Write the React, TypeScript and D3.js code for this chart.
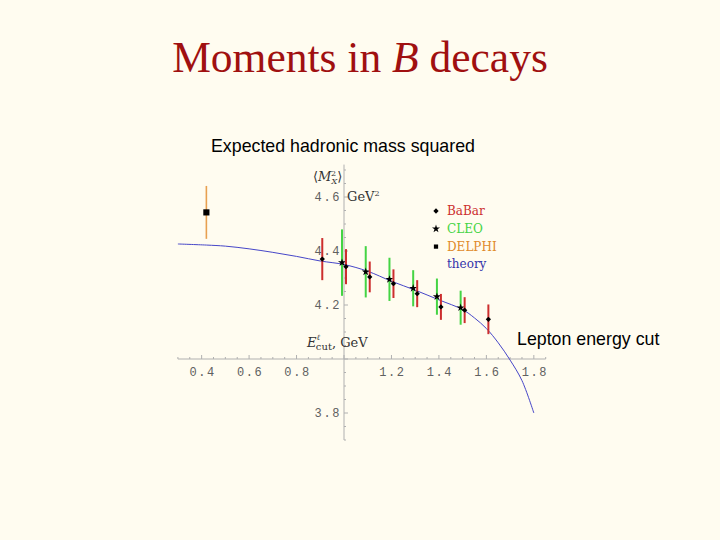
import React from "react";
import * as d3 from "d3";

// ---- data ----
const babarE = [0.9, 1.0, 1.1, 1.2, 1.3, 1.4, 1.5, 1.6];
const babarM = [4.37, 4.342, 4.304, 4.279, 4.242, 4.193, 4.181, 4.147];
const babarErr = [0.078, 0.065, 0.057, 0.053, 0.05, 0.048, 0.048, 0.055];

const cleoE = [1.0, 1.1, 1.2, 1.3, 1.4, 1.5];
const cleoM = [4.357, 4.323, 4.295, 4.262, 4.231, 4.19];
const cleoErr = [0.123, 0.095, 0.08, 0.067, 0.067, 0.063];

const delphiE = [0.42];
const delphiM = [4.543];
const delphiErr = [0.098];

const theoryE = [0.3, 0.42, 0.5, 0.6, 0.7, 0.8, 0.9, 1.0, 1.1, 1.2, 1.3, 1.4, 1.5, 1.55, 1.6, 1.65, 1.7, 1.75, 1.8];
const theoryM = [4.426, 4.422, 4.418, 4.408, 4.395, 4.38, 4.363, 4.35, 4.325, 4.288, 4.255, 4.219, 4.183, 4.152, 4.113, 4.06, 3.996, 3.92, 3.8];

const xTicks = [0.4, 0.6, 0.8, 1.2, 1.4, 1.6, 1.8];
const yTicks = [3.8, 4.2, 4.4, 4.6];
const legendNames = ["BaBar", "CLEO", "DELPHI", "theory"];

const BG = "#fffcf0";
const RED = "#cc2e2e";
const GREEN = "#44d444";
const ORANGE = "#e8a050";
const BLUE = "#4646c8";

export default function App() {
  const x = d3.scaleLinear().domain([0.3, 1.85]).range([177.9, 545.7]);
  const y = d3.scaleLinear().domain([3.7, 4.72]).range([440, 164.6]);
  const x0 = x(1.0);
  const y0 = y(4.0);

  const line = d3
    .line<number>()
    .x((_, i) => x(theoryE[i]))
    .y((d) => y(d))
    .curve(d3.curveCatmullRom);

  const minorX = d3.range(0.3, 1.851, 0.05);
  const minorY = d3.range(3.7, 4.721, 0.05);

  const diamond = d3.symbol().type(d3.symbolSquare).size(14)()!;
  const star = d3.symbol().type(d3.symbolStar).size(20)()!;
  const square = d3.symbol().type(d3.symbolSquare).size(38)()!;
  const legendSquare = d3.symbol().type(d3.symbolSquare).size(18)()!;

  const mono = "'Liberation Mono', 'DejaVu Sans Mono', monospace";
  const serif = "'DejaVu Serif', serif";

  const legendColors = [RED, GREEN, "#e08a2a", "#3333aa"];
  const legendMarks = [diamond, star, legendSquare, null];
  const legendRot = [45, 0, 0, 0];

  const isMajor = (v: number) => Math.abs(Math.round(v * 5) - v * 5) < 0.01;

  return (
    <svg
      width={720}
      height={540}
      style={{ position: "absolute", left: 0, top: 0 }}
      xmlns="http://www.w3.org/2000/svg"
    >
      <rect width={720} height={540} fill={BG} />
      <text
        x={360}
        y={71.7}
        textAnchor="middle"
        fontFamily="'Liberation Serif', 'Times New Roman', serif"
        fontSize={43.5}
        fill="#a01010"
      >
        Moments in <tspan fontStyle="italic">B</tspan> decays
      </text>
      <text x={211} y={152} fontFamily="'Liberation Sans', Arial, sans-serif" fontSize={17.8} fill="#000">
        Expected hadronic mass squared
      </text>
      <text x={517} y={345} fontFamily="'Liberation Sans', Arial, sans-serif" fontSize={17.8} fill="#000">
        Lepton energy cut
      </text>

      {/* axes */}
      <g stroke="#b0b0b0" strokeWidth={1}>
        <line x1={x(0.3)} x2={x(1.85)} y1={y0} y2={y0} />
        <line x1={x0} x2={x0} y1={y(4.72)} y2={y(3.7)} />
        {minorX.map((v, i) => (
          <line key={"mx" + i} x1={x(v)} x2={x(v)} y1={y0} y2={y0 - (isMajor(v) ? 4 : 2)} />
        ))}
        {minorY.map((v, i) => (
          <line key={"my" + i} x1={x0} x2={x0 + (isMajor(v) ? 4 : 2)} y1={y(v)} y2={y(v)} />
        ))}
      </g>
      <g fontFamily={mono} fontSize={12} fill="#606060" letterSpacing={1.6}>
        {xTicks.map((v) => (
          <text key={"xl" + v} x={x(v) + 1} y={y0 + 17} textAnchor="middle">
            {v.toFixed(1)}
          </text>
        ))}
        {yTicks.map((v) => (
          <text key={"yl" + v} x={x0 - 3} y={y(v) + 4} textAnchor="end">
            {v.toFixed(1)}
          </text>
        ))}
      </g>
      {/* axis labels */}
      <text x={313} y={181} fontFamily={serif} fontSize={13} fill="#333">
        ⟨<tspan fontStyle="italic">M</tspan>
        <tspan fontSize={8} fontStyle="italic" dy={3}>X</tspan>
        <tspan fontSize={8} dx={-6} dy={-8}>2</tspan>
        <tspan dy={5} dx={1}>⟩</tspan>
      </text>
      <text x={347} y={201} fontFamily={serif} fontSize={13} fill="#333">
        GeV<tspan fontSize={8} dy={-5}>2</tspan>
      </text>
      <text x={307} y={347} fontFamily={serif} fontSize={13} fill="#333">
        <tspan fontStyle="italic">E</tspan>
        <tspan fontSize={8} fontStyle="italic" dy={-7}>ℓ</tspan>
        <tspan fontSize={10} dx={-4} dy={10}>cut</tspan>
        <tspan dy={-3}>,  GeV</tspan>
      </text>

      {/* theory */}
      <path d={line(theoryM) || ""} fill="none" stroke={BLUE} strokeWidth={1} />

      {/* DELPHI */}
      {delphiE.map((e, i) => (
        <g key={"d" + i}>
          <line x1={x(e)} x2={x(e)} y1={y(delphiM[i] - delphiErr[i])} y2={y(delphiM[i] + delphiErr[i])} stroke={ORANGE} strokeWidth={1.6} />
          <path d={square} transform={`translate(${x(e)},${y(delphiM[i])})`} fill="#000" />
        </g>
      ))}
      {/* CLEO */}
      {cleoE.map((e, i) => (
        <g key={"c" + i}>
          <line x1={x(e) - 2} x2={x(e) - 2} y1={y(cleoM[i] - cleoErr[i])} y2={y(cleoM[i] + cleoErr[i])} stroke={GREEN} strokeWidth={2} />
          <path d={star} transform={`translate(${x(e) - 2},${y(cleoM[i])})`} fill="#000" />
        </g>
      ))}
      {/* BaBar */}
      {babarE.map((e, i) => (
        <g key={"b" + i}>
          <line x1={x(e) + 2} x2={x(e) + 2} y1={y(babarM[i] - babarErr[i])} y2={y(babarM[i] + babarErr[i])} stroke={RED} strokeWidth={2} />
          <path d={diamond} transform={`translate(${x(e) + 2},${y(babarM[i])}) rotate(45)`} fill="#000" />
        </g>
      ))}

      {/* legend */}
      {legendNames.map((n, i) => (
        <g key={"lg" + n} transform={`translate(436,${211 + i * 17.8})`}>
          {legendMarks[i] && <path d={legendMarks[i]!} fill="#000" transform={`rotate(${legendRot[i]})`} />}
          <text x={11} y={4} fontFamily={serif} fontSize={12} fill={legendColors[i]}>
            {n}
          </text>
        </g>
      ))}
    </svg>
  );
}
